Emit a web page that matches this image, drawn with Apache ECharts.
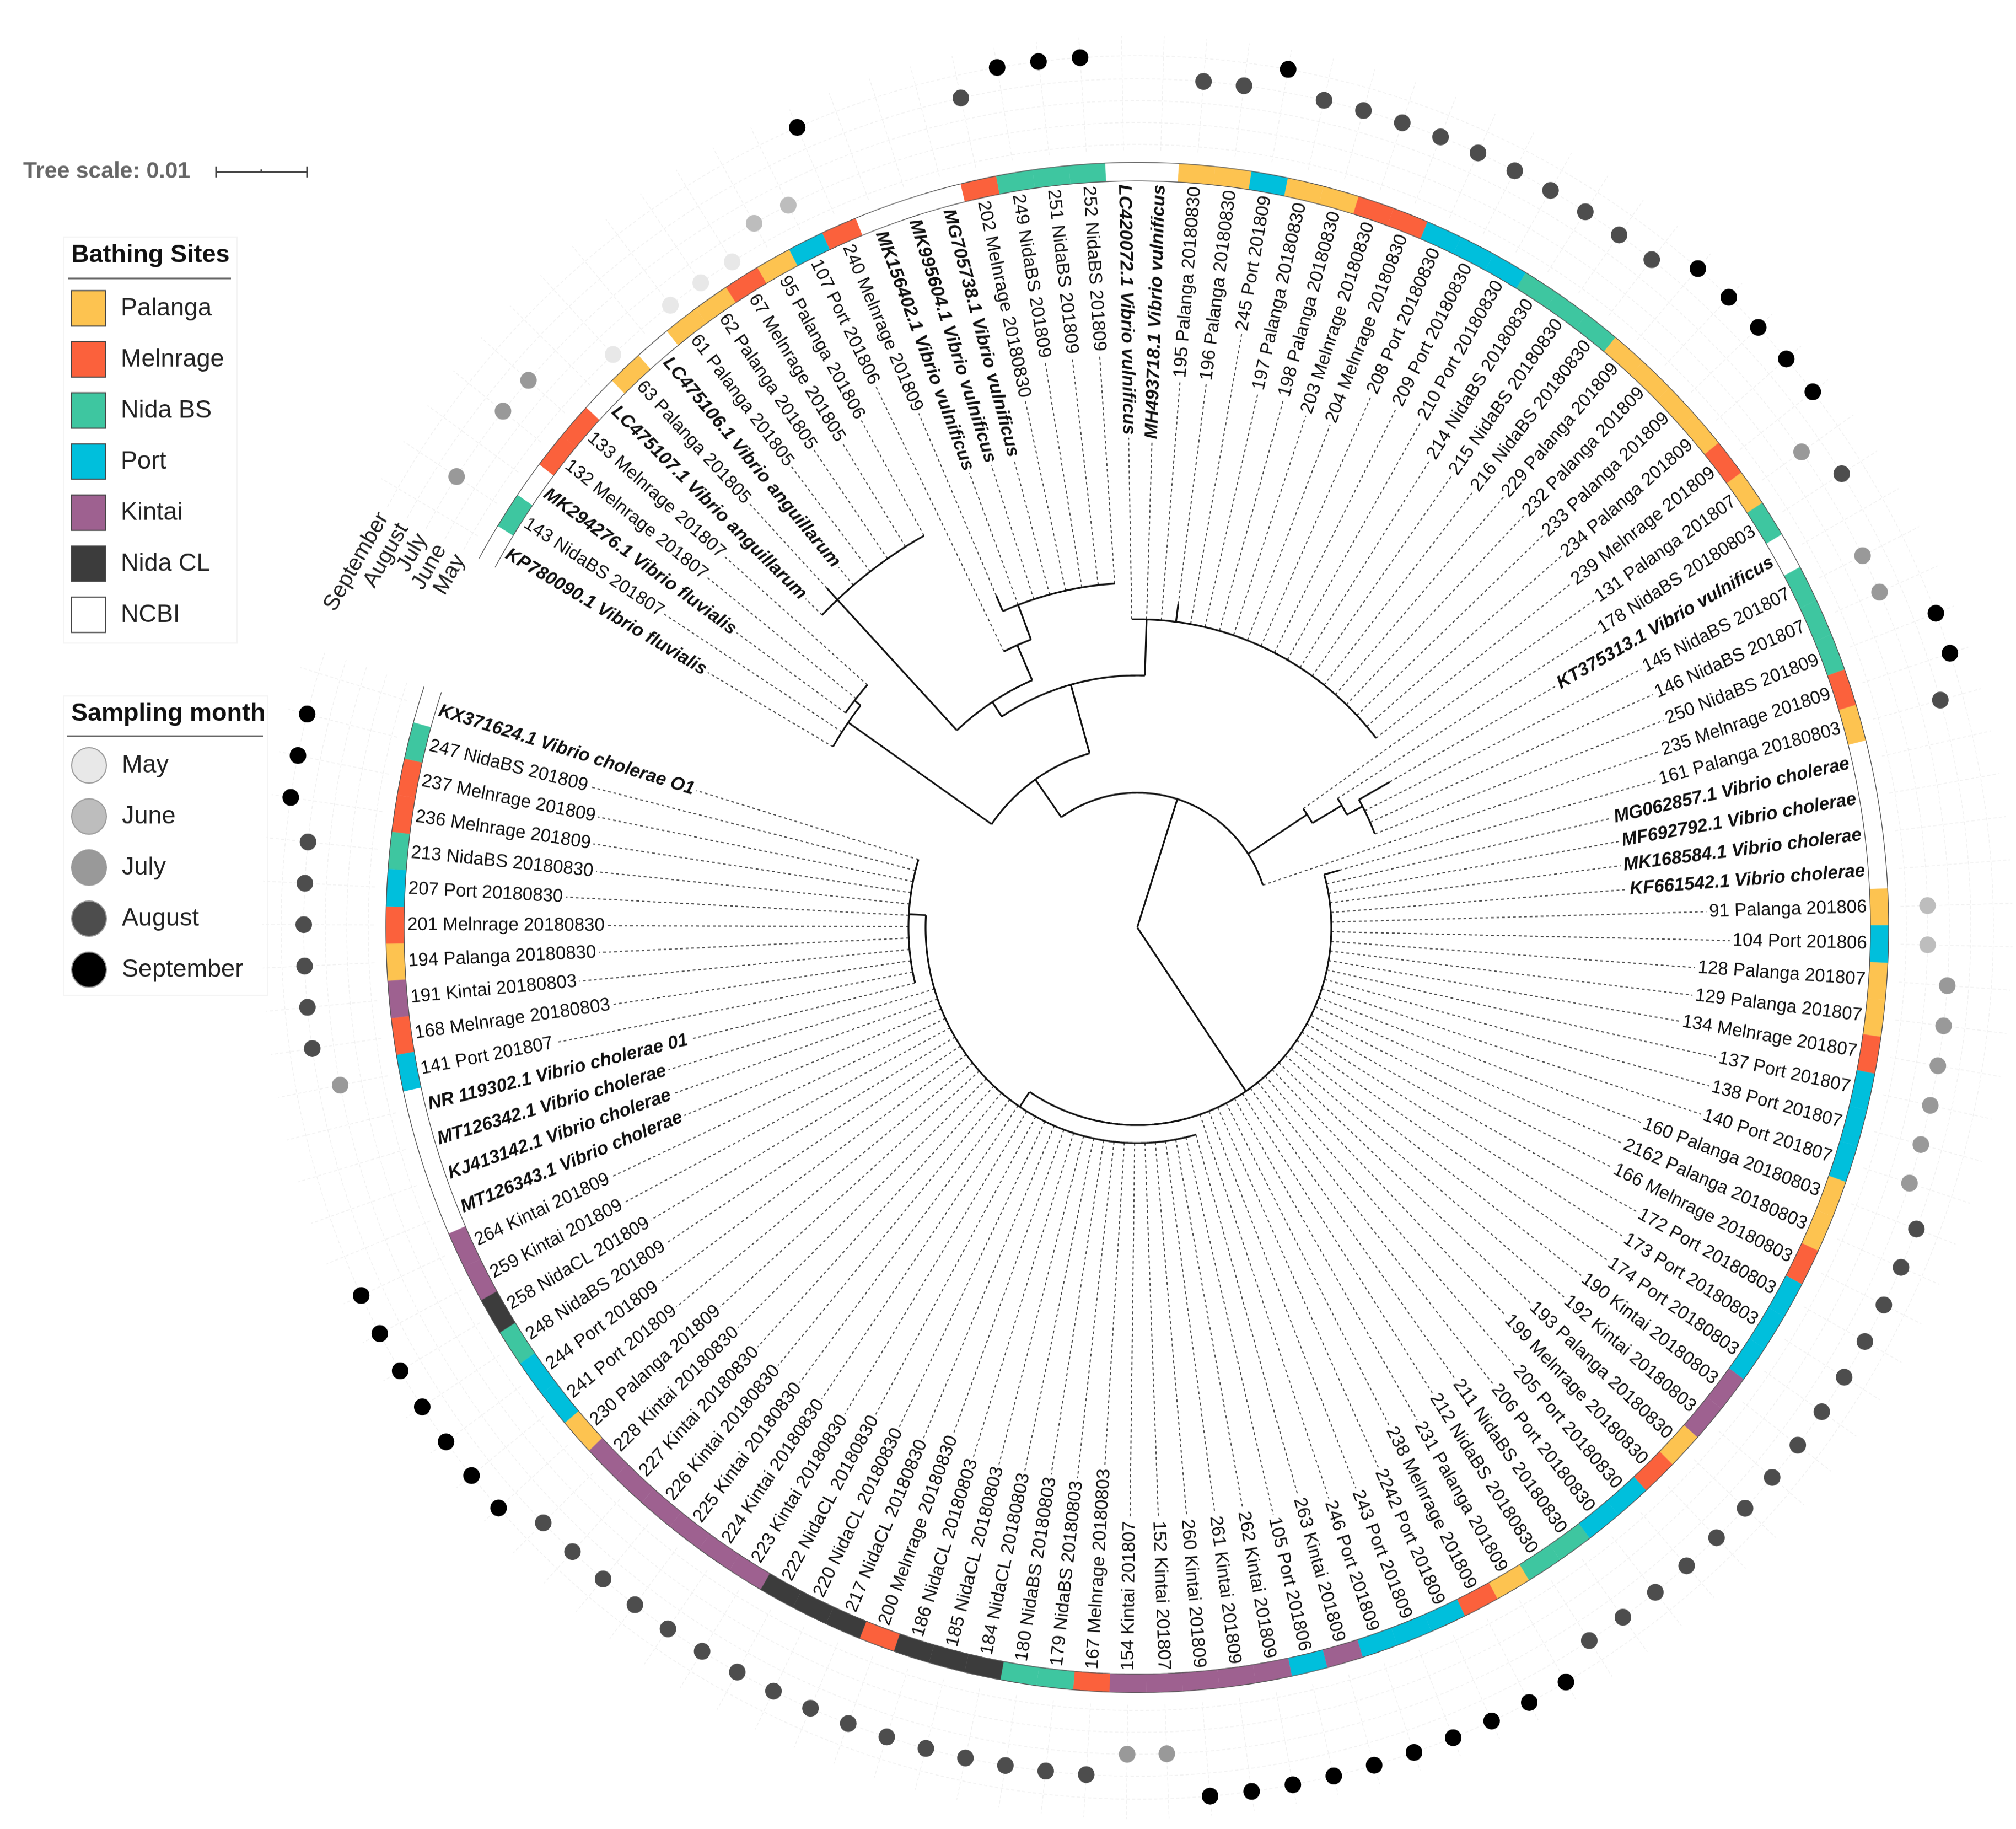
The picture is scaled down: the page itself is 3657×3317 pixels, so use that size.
<!DOCTYPE html>
<html>
<head>
<meta charset="utf-8">
<title>Vibrio tree</title>
<script src="https://cdn.jsdelivr.net/npm/echarts@6/dist/echarts.min.js"></script>
<style>
  html, body { margin: 0; background: #fff; width: 3657px; height: 3317px; overflow: hidden; }
  /* the figure is a little taller than it is wide, the ring is an ellipse */
  #page { width: 3657px; height: 3317px; overflow: visible; }
  #chart { width: 3657px; height: 3258px; transform: scaleY(1.018); transform-origin: 0 0; }
</style>
</head>
<body>
<div id="page"><div id="chart"></div></div>
<script>
// leaves, clockwise from the gap at upper left
var leafLabels = [
  'KP780090.1 Vibrio fluvialis', '143 NidaBS 201807', 'MK294276.1 Vibrio fluvialis', '132 Melnrage 201807', '133 Melnrage 201807',
  'LC475107.1 Vibrio anguillarum', '63 Palanga 201805', 'LC475106.1 Vibrio anguillarum', '61 Palanga 201805', '62 Palanga 201805',
  '67 Melnrage 201805', '95 Palanga 201806', '107 Port 201806', '240 Melnrage 201809', 'MK156402.1 Vibrio vulnificus',
  'MK995604.1 Vibrio vulnificus', 'MG705738.1 Vibrio vulnificus', '202 Melnrage 20180830', '249 NidaBS 201809', '251 NidaBS 201809',
  '252 NidaBS 201809', 'LC420072.1 Vibrio vulnificus', 'MH493718.1 Vibrio vulnificus', '195 Palanga 20180830', '196 Palanga 20180830',
  '245 Port 201809', '197 Palanga 20180830', '198 Palanga 20180830', '203 Melnrage 20180830', '204 Melnrage 20180830',
  '208 Port 20180830', '209 Port 20180830', '210 Port 20180830', '214 NidaBS 20180830', '215 NidaBS 20180830',
  '216 NidaBS 20180830', '229 Palanga 201809', '232 Palanga 201809', '233 Palanga 201809', '234 Palanga 201809',
  '239 Melnrage 201809', '131 Palanga 201807', '178 NidaBS 20180803', 'KT375313.1 Vibrio vulnificus', '145 NidaBS 201807',
  '146 NidaBS 201807', '250 NidaBS 201809', '235 Melnrage 201809', '161 Palanga 20180803', 'MG062857.1 Vibrio cholerae',
  'MF692792.1 Vibrio cholerae', 'MK168584.1 Vibrio cholerae', 'KF661542.1 Vibrio cholerae', '91 Palanga 201806', '104 Port 201806',
  '128 Palanga 201807', '129 Palanga 201807', '134 Melnrage 201807', '137 Port 201807', '138 Port 201807',
  '140 Port 201807', '160 Palanga 20180803', '2162 Palanga 20180803', '166 Melnrage 20180803', '172 Port 20180803',
  '173 Port 20180803', '174 Port 20180803', '190 Kintai 20180803', '192 Kintai 20180803', '193 Palanga 20180830',
  '199 Melnrage 20180830', '205 Port 20180830', '206 Port 20180830', '211 NidaBS 20180830', '212 NidaBS 20180830',
  '231 Palanga 201809', '238 Melnrage 201809', '2242 Port 201809', '243 Port 201809', '246 Port 201809',
  '263 Kintai 201809', '105 Port 201806', '262 Kintai 201809', '261 Kintai 201809', '260 Kintai 201809',
  '152 Kintai 201807', '154 Kintai 201807', '167 Melnrage 20180803', '179 NidaBS 20180803', '180 NidaBS 20180803',
  '184 NidaCL 20180803', '185 NidaCL 20180803', '186 NidaCL 20180803', '200 Melnrage 20180830', '217 NidaCL 20180830',
  '220 NidaCL 20180830', '222 NidaCL 20180830', '223 Kintai 20180830', '224 Kintai 20180830', '225 Kintai 20180830',
  '226 Kintai 20180830', '227 Kintai 20180830', '228 Kintai 20180830', '230 Palanga 201809', '241 Port 201809',
  '244 Port 201809', '248 NidaBS 201809', '258 NidaCL 201809', '259 Kintai 201809', '264 Kintai 201809',
  'MT126343.1 Vibrio cholerae', 'KJ413142.1 Vibrio cholerae', 'MT126342.1 Vibrio cholerae', 'NR 119302.1 Vibrio cholerae 01', '141 Port 201807',
  '168 Melnrage 20180803', '191 Kintai 20180803', '194 Palanga 20180830', '201 Melnrage 20180830', '207 Port 20180830',
  '213 NidaBS 20180830', '236 Melnrage 201809', '237 Melnrage 201809', '247 NidaBS 201809', 'KX371624.1 Vibrio cholerae O1'
];
// index into siteNames for each leaf
var siteNames = ['Palanga', 'Melnrage', 'Nida BS', 'Port', 'Kintai', 'Nida CL', 'NCBI'];
var leafSites = [
  6, 2, 6, 1, 1, 6, 0, 6, 0, 0, 1, 0, 3, 1, 6, 6, 6, 1, 2, 2,
  2, 6, 6, 0, 0, 3, 0, 0, 1, 1, 3, 3, 3, 2, 2, 2, 0, 0, 0, 0,
  1, 0, 2, 6, 2, 2, 2, 1, 0, 6, 6, 6, 6, 0, 3, 0, 0, 1, 3, 3,
  3, 0, 0, 1, 3, 3, 3, 4, 4, 0, 1, 3, 3, 2, 2, 0, 1, 3, 3, 3,
  4, 3, 4, 4, 4, 4, 4, 1, 2, 2, 5, 5, 5, 1, 5, 5, 5, 4, 4, 4,
  4, 4, 4, 0, 3, 3, 2, 5, 4, 4, 6, 6, 6, 6, 3, 1, 4, 0, 1, 3,
  2, 1, 1, 2, 6
];
// index into monthNames for each leaf, null for the NCBI references
var monthNames = ['May', 'June', 'July', 'August', 'September'];
var leafMonths = [
  null, 2, null, 2, 2, null, 0, null, 0, 0, 0, 1, 1, 4, null, null, null, 3, 4, 4,
  4, null, null, 3, 3, 4, 3, 3, 3, 3, 3, 3, 3, 3, 3, 3, 4, 4, 4, 4,
  4, 2, 3, null, 2, 2, 4, 4, 3, null, null, null, null, 1, 1, 2, 2, 2, 2, 2,
  2, 3, 3, 3, 3, 3, 3, 3, 3, 3, 3, 3, 3, 3, 3, 4, 4, 4, 4, 4,
  4, 4, 4, 4, 4, 2, 2, 3, 3, 3, 3, 3, 3, 3, 3, 3, 3, 3, 3, 3,
  3, 3, 3, 4, 4, 4, 4, 4, 4, 4, null, null, null, null, 2, 3, 3, 3, 3, 3,
  3, 4, 4, 4, null
];
// depth where each leaf leaves the tree. radial unit: 165 = tree scale 0.01
var leafTips = [
  639, 639, 653, 653, 653, 798, 826, 798, 798, 798, 798, 798, 548, 644, 614, 614, 614, 614, 614, 614,
  614, 549, 549, 549, 581, 549, 549, 549, 549, 549, 549, 549, 549, 549, 549, 549, 549, 549, 549, 549,
  549, 368, 430, 526, 462, 462, 462, 240, 381, 352, 352, 352, 352, 352, 352, 352, 352, 352, 352, 352,
  352, 352, 352, 352, 352, 352, 352, 352, 352, 352, 352, 352, 352, 352, 352, 352, 352, 352, 352, 352,
  384, 384, 384, 384, 384, 384, 384, 384, 384, 384, 384, 384, 384, 384, 384, 384, 384, 384, 384, 384,
  384, 384, 384, 384, 384, 384, 384, 384, 384, 384, 384, 384, 384, 415, 415, 415, 415, 415, 415, 415,
  415, 415, 415, 415, 415
];
// inner branches: [depth, from leaf position, to leaf position]
var treeArcs = [
  [240, 9.33, 47.5], [322, 2.15, 16.3], [639, 0.5, 3.36], [653, 2.5, 4.5],
  [449, 10.0, 22.5], [549, 21.5, 40.5], [480, 6.5, 13.5], [798, 5.5, 11.5],
  [548, 12.5, 14.5], [614, 13.5, 20.5], [368, 41.5, 43.2], [430, 42.5, 44.1],
  [462, 43.5, 46.5], [352, 48.5, 98.3], [384, 80.5, 119.6], [415, 113.5, 124.5]
];
// [leaf position, from depth, to depth]
var treeStems = [
  [28.18, 0, 240], [74.07, 0, 352], [9.33, 240, 322], [2.15, 322, 639], [3.36, 639, 653],
  [16.3, 322, 449], [22.5, 449, 549], [24.5, 549, 581], [10.0, 449, 480], [6.5, 480, 826],
  [13.5, 480, 548], [14.5, 548, 614], [13.5, 614, 644], [42.2, 240, 368], [43.2, 368, 430],
  [44.1, 430, 462], [43.5, 462, 526], [48.5, 352, 381], [98.3, 352, 384], [119.6, 384, 415]
];

var siteColors = ['#fdc350', '#fb613c', '#3ec6a0', '#00bfdc', '#9e6190', '#3c3c3c', '#ffffff'];
var monthColors = ['#e8e8e8', '#bdbdbd', '#999999', '#4d4d4d', '#000000'];
var monthRadius = [1395, 1434, 1473, 1512, 1553];
var ringIn = 1330, ringOut = 1363, labelEnd = 1324;
var slots = 128.75; // 125 leaves plus the gap
var stretch = 1.018;
function Y(v) { return v / stretch; }

var fontFamily = '"Liberation Sans", Arial, sans-serif';
function isRef(i) { return leafSites[i] === 6; }
function leafFont(i) { return (isRef(i) ? 'italic bold ' : '') + '33px ' + fontFamily; }

var measure = document.createElement('canvas').getContext('2d');
function labelWidth(i) {
  measure.font = leafFont(i);
  return measure.measureText(leafLabels[i]).width;
}

// an arc is a run of short chords
function arcPoints(r, a0, a1) {
  var pts = [];
  for (var a = a0; a < a1; a += 0.2) pts.push([r, a]);
  pts.push([r, a1]);
  return pts;
}

var treeData = [];
treeArcs.forEach(function (d) { treeData = treeData.concat(arcPoints(d[0], d[1], d[2]), [[null, null]]); });
treeStems.forEach(function (d) { treeData.push([d[1], d[0]], [d[2], d[0]], [null, null]); });

var leafLines = [], gridLines = [];
leafLabels.forEach(function (name, i) {
  leafLines.push([leafTips[i], i + 0.5], [labelEnd - labelWidth(i) - 5, i + 0.5], [null, null]);
  gridLines.push([monthRadius[0] - 10, i + 0.5], [monthRadius[4] + 35, i + 0.5], [null, null]);
});
monthRadius.forEach(function (r) { gridLines = gridLines.concat(arcPoints(r, 0, 125), [[null, null]]); });

function lineSeries(name, data, style, z) {
  return {
    name: name, type: 'line', coordinateSystem: 'polar', data: data, z: z, clip: false,
    showSymbol: false, symbol: 'none', silent: true, connectNulls: false, lineStyle: style
  };
}

var series = [
  lineSeries('grid', gridLines, { color: '#f1f1f1', width: 1.5, type: [6, 4] }, 1),
  lineSeries('leaves', leafLines, { color: '#444444', width: 2, type: [5, 5] }, 2),
  lineSeries('tree', treeData, { color: '#111111', width: 3.2 }, 3)
];

// coloured ring, one series per site so the legend can use them
siteNames.forEach(function (site, s) {
  var data = [];
  leafSites.forEach(function (v, i) { if (v === s) data.push([ringOut, i + 0.5]); });
  series.push({
    name: site, type: 'custom', coordinateSystem: 'polar', data: data, z: 4, clip: false, silent: true,
    itemStyle: { color: siteColors[s] },
    renderItem: function (params, api) {
      var a = api.value(1), cs = params.coordSys;
      var p0 = api.coord([ringOut, a - 0.5]), p1 = api.coord([ringOut, a + 0.5]);
      return {
        type: 'sector',
        shape: {
          cx: cs.cx, cy: cs.cy, r: ringOut, r0: ringIn, clockwise: true,
          startAngle: Math.atan2(p0[1] - cs.cy, p0[0] - cs.cx),
          endAngle: Math.atan2(p1[1] - cs.cy, p1[0] - cs.cx)
        },
        style: { fill: siteColors[s], stroke: siteColors[s], lineWidth: 0.5 }
      };
    }
  });
});

series.push(lineSeries('ring edge', arcPoints(ringIn, 0, 125).concat([[null, null]], arcPoints(ringOut, 0, 125)),
  { color: '#555555', width: 1.4 }, 5));

// month dots
monthNames.forEach(function (month, m) {
  var data = [];
  leafMonths.forEach(function (v, i) { if (v === m) data.push([monthRadius[m], i + 0.5]); });
  series.push({
    name: month, type: 'scatter', coordinateSystem: 'polar', data: data, z: 6, silent: true,
    symbol: 'circle', symbolSize: 30, itemStyle: { color: monthColors[m], opacity: 1 }
  });
});

// leaf labels, flipped on the left half so they stay readable
series.push({
  name: 'labels', type: 'custom', coordinateSystem: 'polar', z: 6, clip: false, silent: true,
  data: leafLabels.map(function (name, i) { return [labelEnd, i + 0.5, i]; }),
  renderItem: function (params, api) {
    var i = api.value(2), cs = params.coordSys;
    var p = api.coord([labelEnd, api.value(1)]);
    var out = Math.atan2(-(p[1] - cs.cy), p[0] - cs.cx);
    var right = p[0] >= cs.cx;
    return {
      type: 'text', x: p[0], y: p[1], rotation: right ? out : out + Math.PI,
      style: {
        text: leafLabels[i], font: leafFont(i), fill: '#111111',
        align: right ? 'right' : 'left', verticalAlign: 'middle'
      }
    };
  }
});

// month names along the guide arcs, in the gap
series.push({
  name: 'month names', type: 'custom', coordinateSystem: 'polar', z: 6, clip: false, silent: true,
  data: monthRadius.map(function (r, m) { return [r, -0.2, m]; }),
  renderItem: function (params, api) {
    var p = api.coord([api.value(0), api.value(1)]);
    return {
      type: 'text', x: p[0], y: p[1], rotation: Math.PI / 3,
      style: {
        text: monthNames[api.value(2)], font: '40px ' + fontFamily, fill: '#222222',
        align: 'right', verticalAlign: 'middle'
      }
    };
  }
});

function legendBlock(names, top, icon, border) {
  return {
    data: names, orient: 'vertical', left: 129, top: top, padding: 0, icon: icon,
    itemWidth: icon === 'rect' ? 61 : 63, itemHeight: 63, itemGap: 26, selectedMode: false,
    itemStyle: { borderColor: border, borderWidth: 2, opacity: 1 },
    textStyle: { fontFamily: fontFamily, fontSize: 45, color: '#222222', padding: [0, 0, 0, 23] }
  };
}

function titleBlock(text, left, top, size, color) {
  return {
    text: text, left: left, top: top, padding: 0,
    textStyle: { fontFamily: fontFamily, fontSize: size, fontWeight: 'bold', color: color }
  };
}

function hLine(x1, y, x2, color, width) {
  return { type: 'line', shape: { x1: x1, y1: Y(y), x2: x2, y2: Y(y) }, style: { stroke: color, lineWidth: width } };
}
function vLine(x, y1, y2) {
  return { type: 'line', shape: { x1: x, y1: Y(y1), x2: x, y2: Y(y2) }, style: { stroke: '#444444', lineWidth: 3 } };
}
function frame(x, y, w, h) {
  return { type: 'rect', z: -1, shape: { x: x, y: Y(y), width: w, height: h / stretch }, style: { fill: '#ffffff', stroke: '#f4f4f4', lineWidth: 2 } };
}

var chart = echarts.init(document.getElementById('chart'), null, { renderer: 'canvas', width: 3657, height: 3258, devicePixelRatio: 1 });
chart.setOption({
  animation: false,
  backgroundColor: '#ffffff',
  title: [
    titleBlock('Tree scale: 0.01', 42, Y(290), 41, '#666666'),
    titleBlock('Bathing Sites', 129, Y(440), 45, '#111111'),
    titleBlock('Sampling month', 129, Y(1272), 45, '#111111')
  ],
  legend: [
    legendBlock(siteNames, Y(526), 'rect', '#444444'),
    legendBlock(monthNames, Y(1355), 'circle', '#999999')
  ],
  polar: { center: [2063, Y(1682)], radius: 1650 },
  radiusAxis: { min: 0, max: 1650, show: false },
  angleAxis: { type: 'value', min: 0, max: slots, startAngle: 151.15, clockwise: true, show: false },
  graphic: { elements: [
    frame(115, 430, 315, 736),
    frame(115, 1262, 371, 543),
    hLine(124, 505, 419, '#666666', 3),
    hLine(122, 1335, 477, '#666666', 3),
    hLine(392, 312, 557, '#444444', 3),
    vLine(392, 302, 322),
    vLine(557, 302, 322),
    vLine(474, 307, 312)
  ] },
  series: series
});
</script>
</body>
</html>
